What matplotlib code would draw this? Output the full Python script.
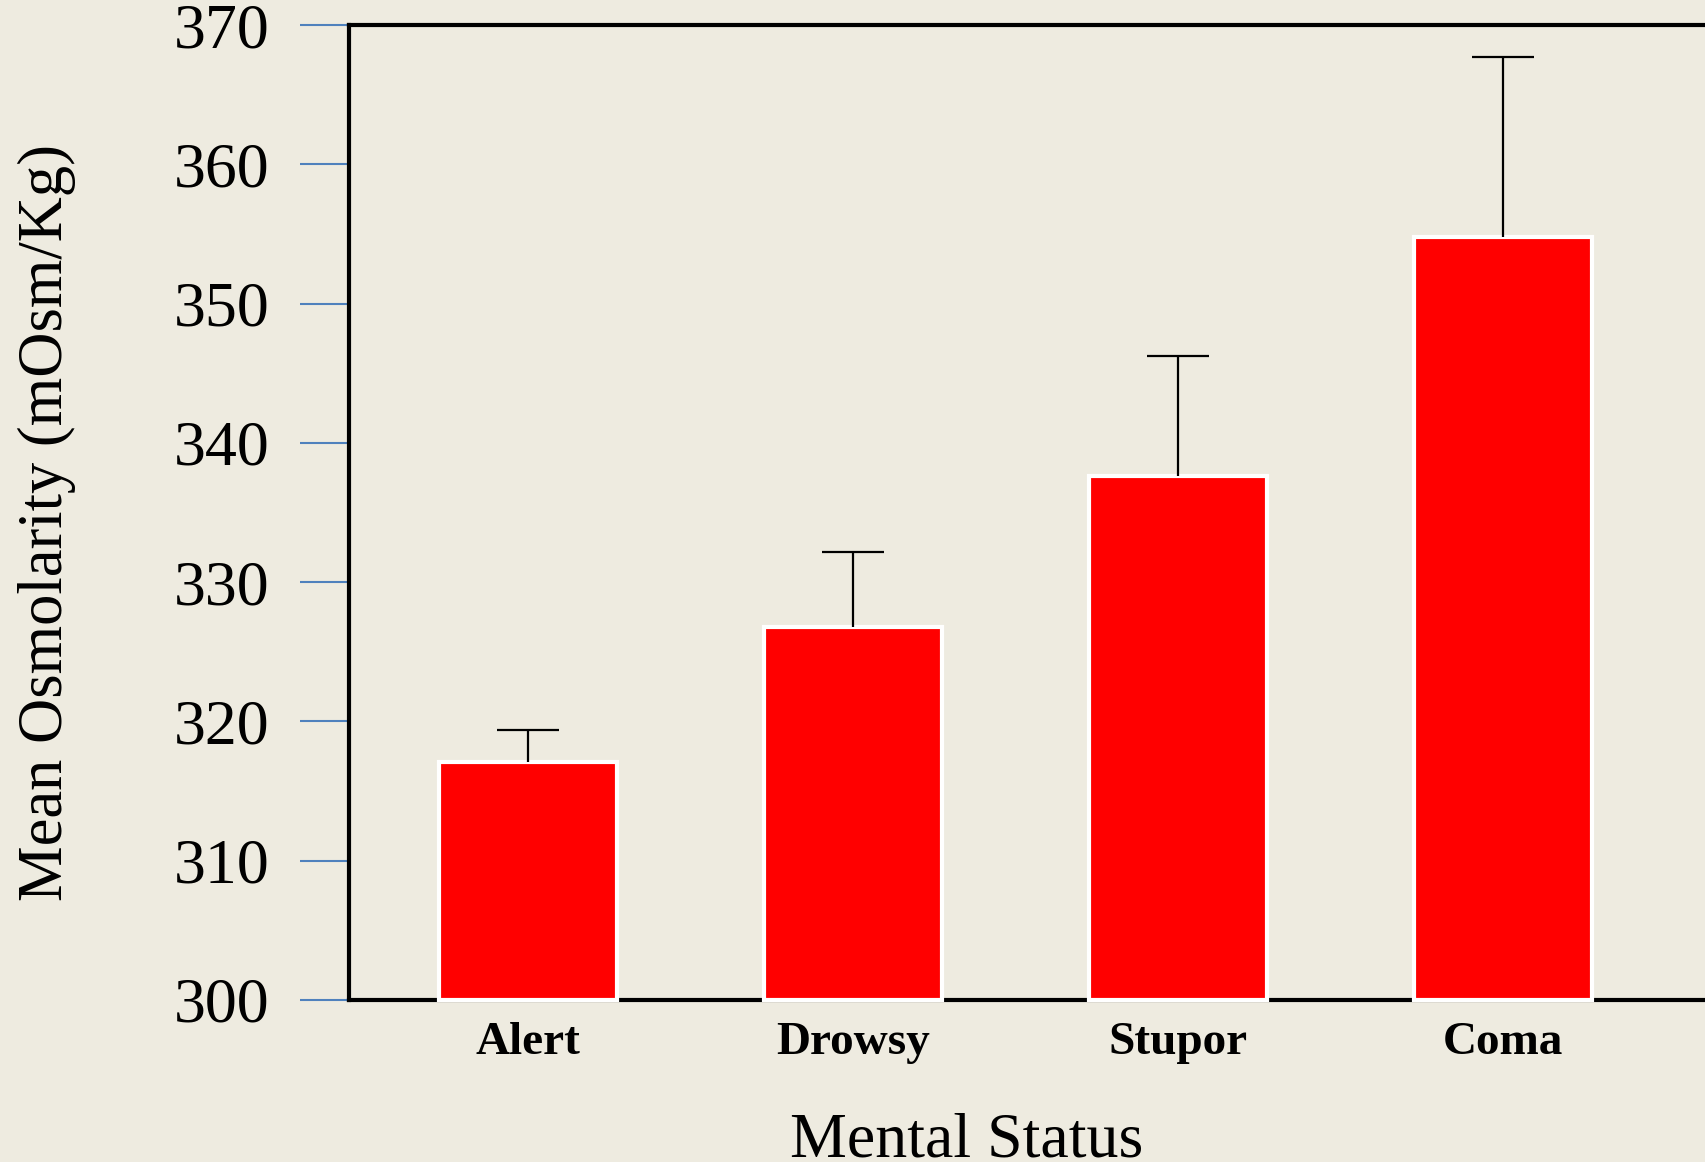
import matplotlib
matplotlib.use("Agg")
import matplotlib.pyplot as plt

# Data
categories = ["Alert", "Drowsy", "Stupor", "Coma"]
mean_osm = [317.1, 326.8, 337.6, 354.8]
upper_err = [2.3, 5.4, 8.6, 12.9]
y_ticks = [300, 310, 320, 330, 340, 350, 360, 370]
y_base = 300

bg = "#EEEBE0"
plt.rcParams["font.family"] = ["Liberation Serif", "DejaVu Serif"]

fig = plt.figure(figsize=(17.05, 11.62), dpi=100, facecolor=bg)
ax = fig.add_axes([349 / 1705, 162 / 1162, 1441 / 1705, 975 / 1162], facecolor=bg)

x = list(range(len(categories)))
heights = [v - y_base for v in mean_osm]
ax.bar(x, heights, width=0.55, bottom=y_base, color="#FF0000", edgecolor="white",
       linewidth=3, zorder=3, clip_on=False)

# upper-only error bars: hide the cap that sits on the bar top
eb = ax.errorbar(x, mean_osm, yerr=[[0] * len(x), upper_err], fmt="none",
                 ecolor="black", elinewidth=1.6, capsize=22, capthick=1.6, zorder=4)
eb[1][0].set_visible(False)

ax.set_ylim(300, 370)
ax.set_xlim(-0.551, 3.883)
ax.set_yticks(y_ticks)
ax.set_yticklabels([str(t) for t in y_ticks], fontsize=46)
ax.set_xticks(x)
ax.set_xticklabels(categories, fontsize=34, fontweight="bold")

ax.tick_params(axis="y", length=35, width=1.5, color="#4F81BD", pad=22)
ax.tick_params(axis="x", length=0, pad=16)

for side in ["left", "top", "bottom"]:
    ax.spines[side].set_linewidth(3)
    ax.spines[side].set_color("black")
ax.spines["right"].set_visible(False)

ax.set_ylabel("Mean Osmolarity (mOsm/Kg)", fontsize=45)
ax.yaxis.set_label_coords(-0.1895, 0.49)
fig.text(967 / 1705, 0.005, "Mental Status", fontsize=46, ha="center", va="baseline")

fig.savefig("out.png", dpi=100, facecolor=bg)
